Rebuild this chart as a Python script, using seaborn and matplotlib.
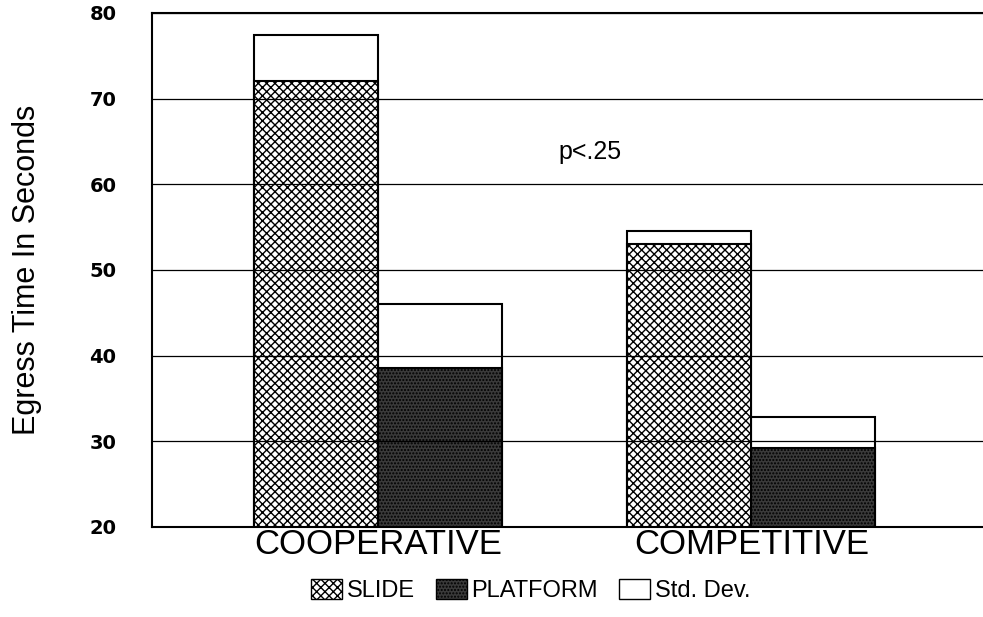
import pandas as pd
import matplotlib.pyplot as plt
import seaborn as sns
from matplotlib.patches import Patch

conditions = ['COOPERATIVE', 'COMPETITIVE']
measures = ['SLIDE', 'PLATFORM']
slide_mean = [72.0, 53.0]
slide_sd = [5.4, 1.6]
platform_mean = [38.5, 29.2]
platform_sd = [7.5, 3.6]

rows = []
for i, c in enumerate(conditions):
    rows.append({'condition': c, 'measure': 'SLIDE', 'mean': slide_mean[i], 'sd': slide_sd[i]})
    rows.append({'condition': c, 'measure': 'PLATFORM', 'mean': platform_mean[i], 'sd': platform_sd[i]})
df = pd.DataFrame(rows)
df['top'] = df['mean'] + df['sd']

sns.set_style('white')
plt.rcParams['font.family'] = ['Liberation Sans', 'DejaVu Sans']
plt.rcParams['hatch.linewidth'] = 1.0
plt.rcParams['text.color'] = 'black'
plt.rcParams['axes.labelcolor'] = 'black'
plt.rcParams['xtick.color'] = 'black'
plt.rcParams['ytick.color'] = 'black'

fig = plt.figure(figsize=(9.83, 6.17), dpi=100)
ax = fig.add_axes([0.155, 0.146, 0.845, 0.833])

# std dev boxes first (white), means drawn over them
sns.barplot(data=df, x='condition', y='top', hue='measure', hue_order=measures,
            order=conditions, width=0.665, gap=0, palette=['white', 'white'],
            edgecolor='black', linewidth=1.5, legend=False, ax=ax)
sns.barplot(data=df, x='condition', y='mean', hue='measure', hue_order=measures,
            order=conditions, width=0.665, gap=0, palette=['white', '#3a3a3a'],
            edgecolor='black', linewidth=1.5, legend=False, ax=ax)

hatches = {2: 'xxxx', 3: '.....'}
for k in (2, 3):
    for bar in ax.containers[k]:
        bar.set_hatch(hatches[k])
        bar.set_edgecolor('black')

ax.set_ylim(20, 80)
ax.set_xlim(-0.606, 1.621)
ax.set_yticks(range(20, 81, 10))
ax.yaxis.grid(True, color='black', linewidth=0.9)
ax.set_axisbelow(False)
for s in ['left', 'bottom', 'top']:
    ax.spines[s].set_color('black')
    ax.spines[s].set_linewidth(1.5)
ax.spines['right'].set_visible(False)

ax.tick_params(axis='y', length=0, pad=26)
ax.tick_params(axis='x', length=0, pad=1, labelsize=25)
for t in ax.get_yticklabels():
    t.set_fontweight('bold')
    t.set_fontsize(14)
    t.set_family('DejaVu Sans')
ax.set_xlabel('')
ax.set_ylabel('Egress Time In Seconds', fontsize=22, labelpad=34)

ax.text(0.568, 63.8, 'p<.25', fontsize=18, ha='center', va='center')

handles = [Patch(facecolor='white', edgecolor='black', hatch='xxxx', label='SLIDE'),
           Patch(facecolor='#3a3a3a', edgecolor='black', hatch='.....', label='PLATFORM'),
           Patch(facecolor='white', edgecolor='black', label='Std. Dev.')]
fig.legend(handles=handles, loc='center', bbox_to_anchor=(0.54, 0.043), ncol=3,
           frameon=False, fontsize=17, handlelength=1.3, handleheight=0.9,
           handletextpad=0.2, columnspacing=0.9)

fig.savefig('out.png', dpi=100)
